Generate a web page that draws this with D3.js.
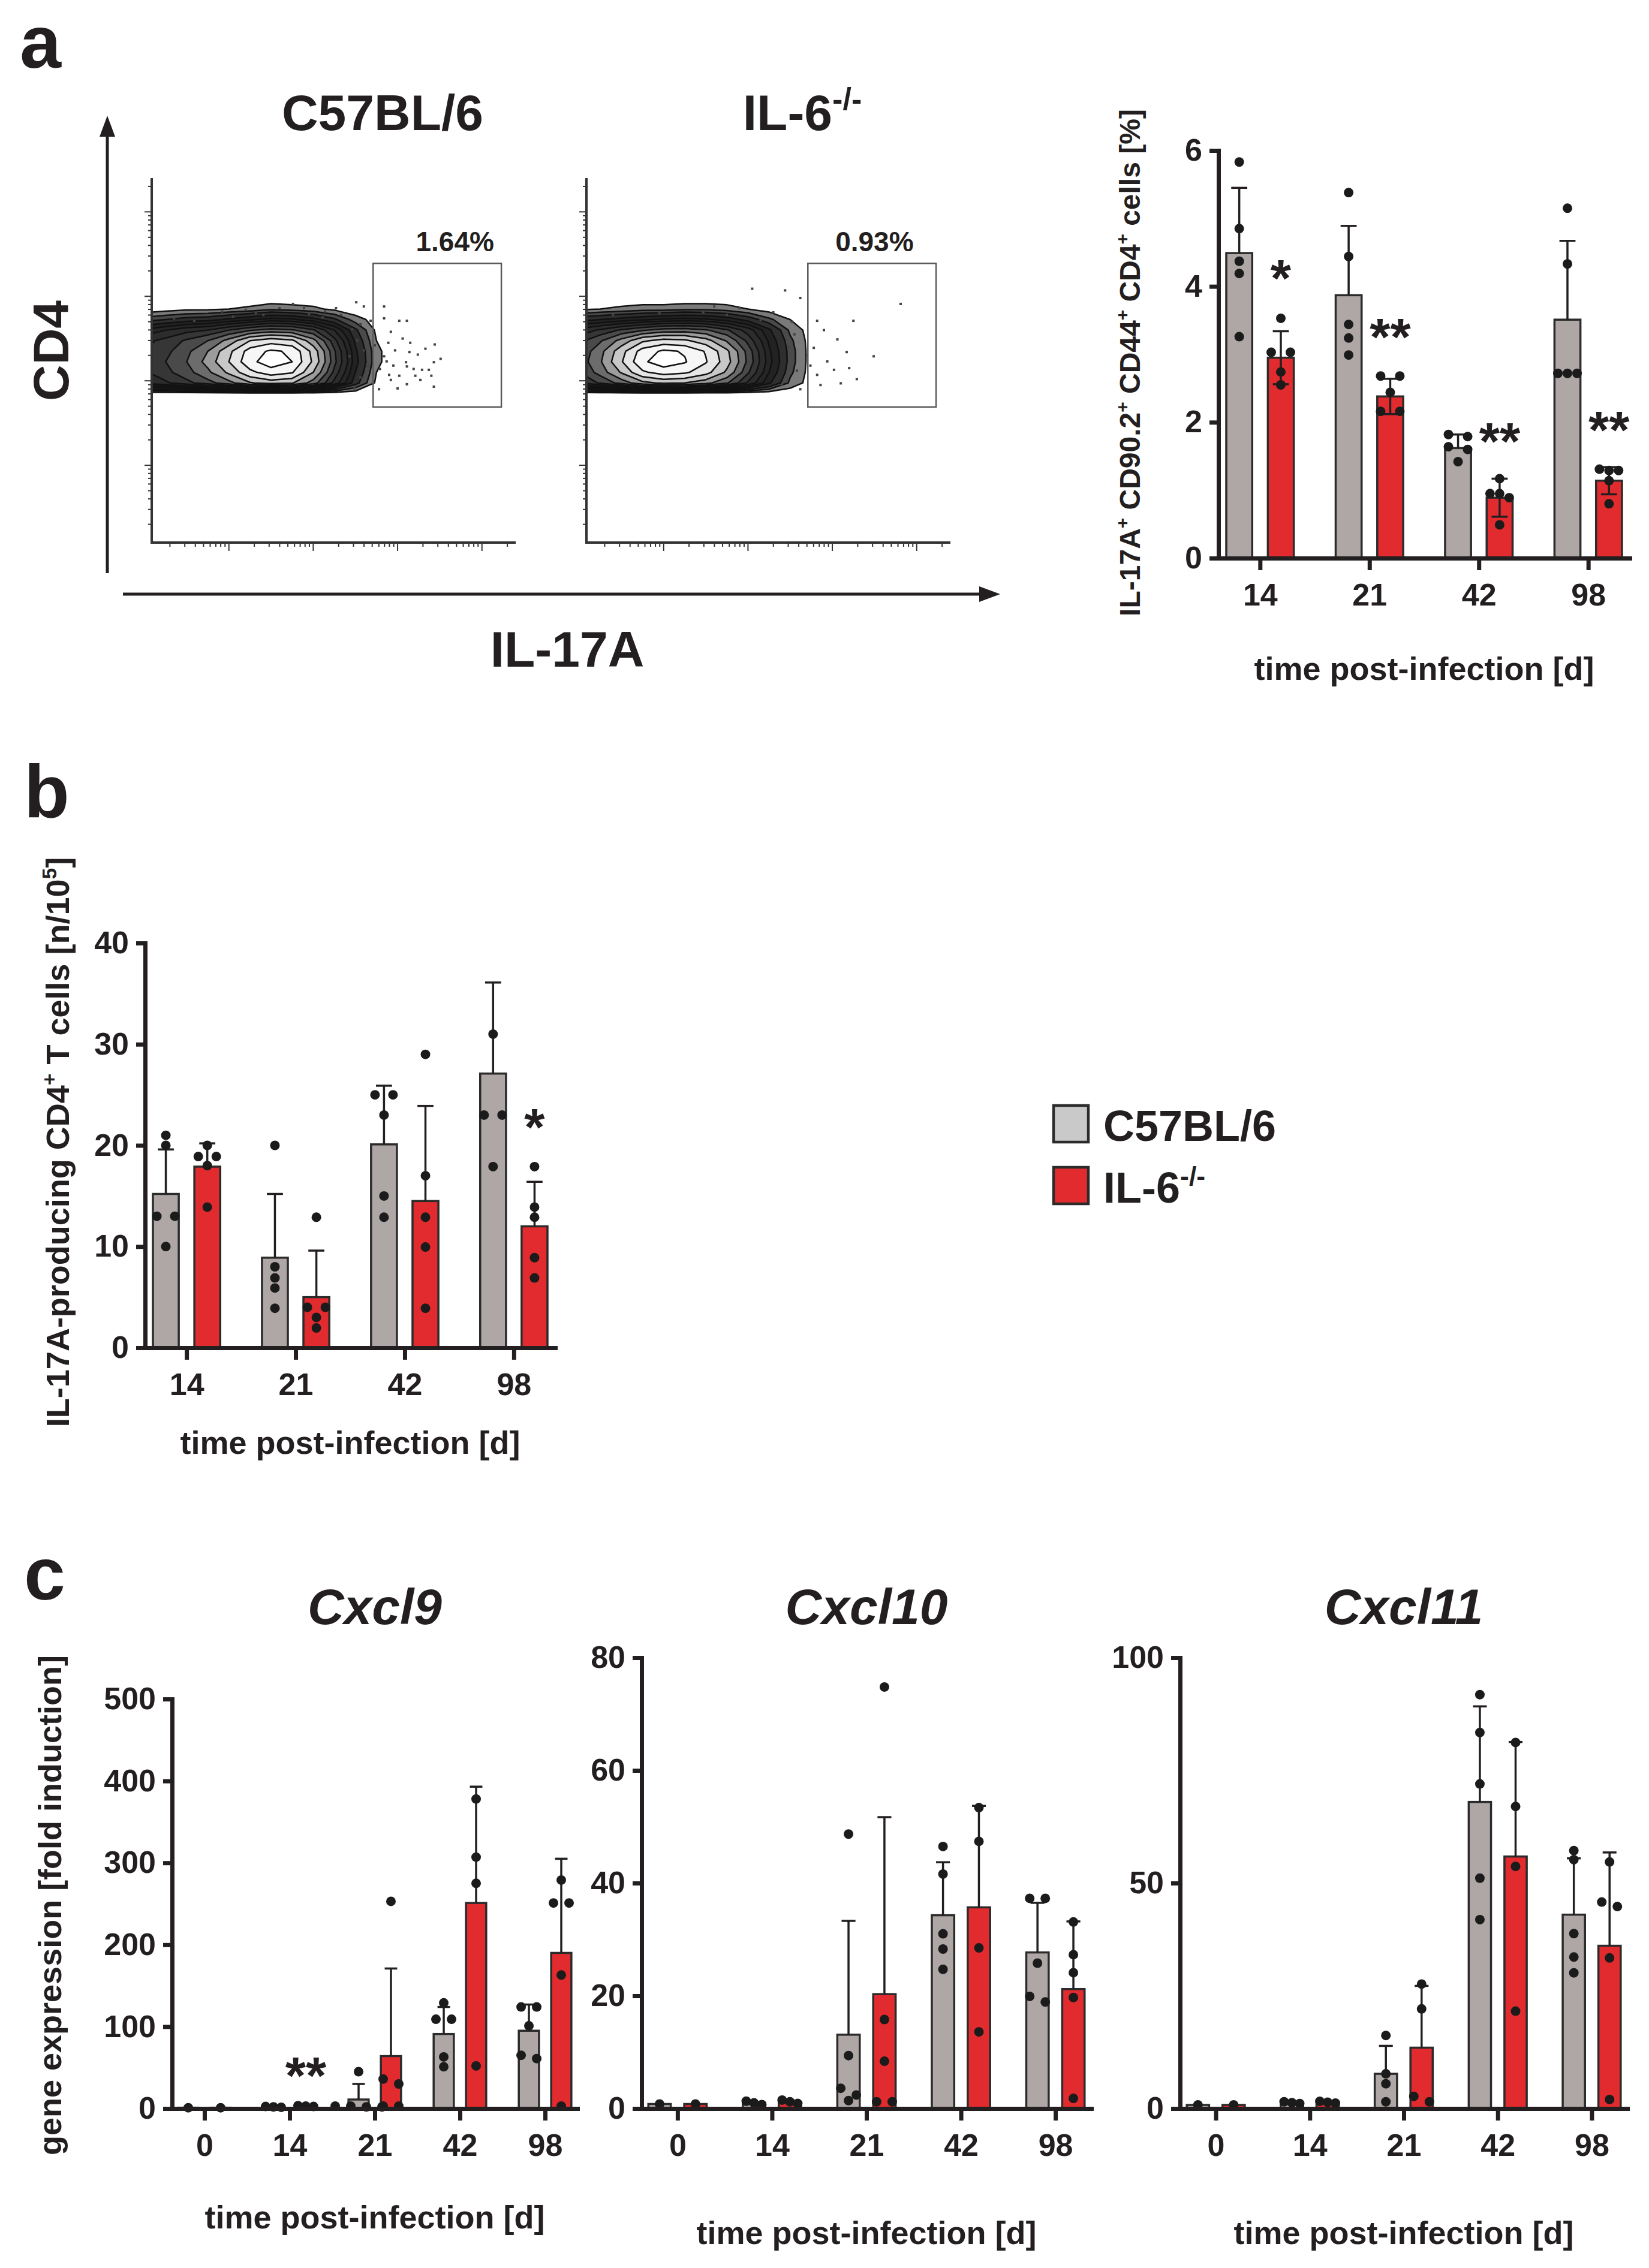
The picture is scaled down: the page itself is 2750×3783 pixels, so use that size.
<!DOCTYPE html>
<html>
<head>
<meta charset="utf-8">
<script src="https://cdnjs.cloudflare.com/ajax/libs/d3/7.8.5/d3.min.js"></script>
<style>
body { margin: 0; background: #fff; }
text { font-family: "Liberation Sans", Arial, Helvetica, sans-serif; font-weight: bold; fill: #231f20; }
</style>
</head>
<body>
<div id="chart-area"></div>
<script>
var svgWidth = 2750, svgHeight = 3783;
var ink = '#231f20', colGray = '#aea7a6', colRed = '#e22b2f', legGray = '#c9c9c9';

var groups = ['C57BL/6', 'IL-6-/-'];
var daysAB = ['14', '21', '42', '98'];
var daysC = ['0', '14', '21', '42', '98'];

// panel a, right: IL-17A+ CD90.2+ CD44+ CD4+ cells [%]
var aTicks = [0, 2, 4, 6];
var aMeanWT = [4.49, 3.87, 1.62, 3.51];
var aSdWT = [0.96, 1.02, 0.20, 1.16];
var aDotsWT = [[5.83, 4.85, 4.37, 4.19, 3.26], [5.38, 4.44, 3.44, 3.24, 2.99], [1.82, 1.79, 1.64, 1.60, 1.42], [5.15, 4.33, 2.72, 2.72, 2.72]];
var aMeanKO = [2.95, 2.38, 0.89, 1.14];
var aSdKO = [0.39, 0.26, 0.28, 0.20];
var aDotsKO = [[3.53, 3.03, 3.03, 2.74, 2.55], [2.68, 2.68, 2.44, 2.16, 2.16], [1.17, 0.95, 0.95, 0.89, 0.49], [1.29, 1.31, 1.29, 1.14, 0.80]];
var aStars = ['*', '**', '**', '**'];
var aStarY = [4.3, 3.43, 1.90, 2.07];

// panel b: IL-17A-producing CD4+ T cells [n/10^5]
var bTicks = [0, 10, 20, 30, 40];
var bMeanWT = [15.2, 8.9, 20.1, 27.1];
var bSdWT = [4.4, 6.3, 5.8, 9.0];
var bDotsWT = [[21, 20, 13, 13, 10], [20, 8, 6.9, 5.9, 3.9], [25, 25, 23, 15, 12.9], [31, 23, 23, 17.9]];
var bMeanKO = [17.9, 5.0, 14.5, 12.0];
var bSdKO = [2.3, 4.6, 9.4, 4.4];
var bDotsKO = [[20, 18.9, 18.9, 18, 13.9], [12.9, 4, 4, 3, 1.95], [29, 17, 12.9, 9.95, 3.9], [17.9, 13.9, 12.9, 8.9, 6.9]];
var bStars = ['', '', '', '*'];
var bStarY = [0, 0, 0, 23];

// panel c: gene expression [fold induction]
var c9Ticks = [0, 100, 200, 300, 400, 500];
var c9MeanWT = [1, 2, 11, 91, 95];
var c9SdWT = [0, 0.5, 19, 33, 32];
var c9DotsWT = [[1], [1.5, 2, 2.5], [45, 3, 3, 2, 2], [129, 109, 109, 63, 51], [124, 124, 101, 61, 65]];
var c9MeanKO = [1, 3, 64, 251, 190];
var c9SdKO = [0, 0.5, 107, 142, 115];
var c9DotsKO = [[1], [2.5, 3, 3.5], [253, 36, 30, 3, 3], [378, 307, 275, 52], [279, 251, 251, 163, 3]];
var c9Stars = ['', '**', '', '', ''];
var c9StarY = [0, 55, 0, 0, 0];

var c10Ticks = [0, 20, 40, 60, 80];
var c10MeanWT = [0.8, 1.0, 13.1, 34.3, 27.7];
var c10SdWT = [0, 0.2, 20.2, 9.4, 8.8];
var c10DotsWT = [[0.8], [0.7, 1.0, 1.3], [48.7, 9.4, 3.6, 2.4, 1.4], [46.5, 41.6, 31, 28.3, 24.7], [37.3, 37.3, 25.8, 19.9, 18.9]];
var c10MeanKO = [0.8, 1.2, 20.3, 35.7, 21.2];
var c10SdKO = [0, 0.2, 31.4, 18.0, 12.0];
var c10DotsKO = [[0.8], [0.9, 1.2, 1.5], [74.8, 15.8, 8.4, 1.2, 1.2], [53.4, 47.4, 28.5, 13.6], [33.1, 27.3, 24.1, 19.7, 1.8]];

var c11Ticks = [0, 50, 100];
var c11MeanWT = [0.8, 1.3, 7.7, 68.0, 43.0];
var c11SdWT = [0, 0.2, 6.2, 21.2, 12.5];
var c11DotsWT = [[0.8], [1.1, 1.3, 1.5], [16.2, 7.7, 5.5, 1.5], [91.8, 83.4, 72, 51.1, 41.9], [57.2, 55.2, 38.8, 33.6, 30.1]];
var c11MeanKO = [0.8, 1.4, 13.5, 55.9, 36.1];
var c11SdKO = [0, 0.2, 13.7, 25.4, 20.7];
var c11DotsKO = [[0.8], [1.2, 1.4, 1.6], [27.6, 22.1, 2.7, 1.5], [81.2, 67, 53.7, 21.6], [54.7, 45.8, 44.8, 33.4, 2]];

// panel a, left: flow plots (log10 units)
var flowRange = [1.085, 5.4];
var flowGridX = [1.0, 1.25, 1.5, 1.75, 2.0, 2.25, 2.5, 2.75, 3.0, 3.25, 3.5, 3.75, 4.0];
var flowGridY = [4.1, 3.975, 3.85, 3.725, 3.6, 3.475, 3.35, 3.225, 3.1, 2.975, 2.85];
var flowLevels = [0.3, 0.7, 1.1, 1.6, 2.1, 2.6, 3.2, 3.8, 4.5, 5.3, 6.2, 7.2, 8.3, 9.4];
var flowGridWT = [
  [0, 0, 0, 0, 0, 0, 0, 0, 0, 0, 0, 0, 0],
  [0, 0, 0, 0, 0, 0, 0, 0, 0, 0, 0, 0, 0],
  [0, 0.1, 0.2, 0.2, 0.3, 0.4, 0.6, 0.5, 0.4, 0.2, 0, 0, 0],
  [0.9, 1.1, 1.3, 1.4, 1.7, 2.0, 2.3, 2.2, 1.8, 1.2, 0.5, 0.1, 0],
  [2.2, 2.6, 3.0, 3.2, 3.8, 4.4, 4.8, 4.6, 3.9, 2.6, 1.2, 0.2, 0],
  [3.0, 3.4, 3.9, 4.5, 5.6, 7.2, 7.8, 7.4, 5.6, 3.4, 1.5, 0.3, 0],
  [3.2, 3.6, 4.3, 5.3, 6.9, 8.8, 9.6, 9.2, 6.8, 3.9, 1.7, 0.4, 0],
  [3.3, 3.8, 4.5, 5.6, 7.2, 9.1, 10, 9.4, 7.0, 4.0, 1.8, 0.4, 0],
  [3.1, 3.6, 4.2, 5.1, 6.4, 8.0, 8.9, 8.4, 6.2, 3.6, 1.6, 0.3, 0],
  [2.8, 3.1, 3.6, 4.2, 5.0, 6.1, 6.6, 6.3, 4.9, 3.0, 1.3, 0.2, 0],
  [0, 0, 0, 0, 0, 0, 0, 0, 0, 0, 0, 0, 0]
];
var flowGridKO = [
  [0, 0, 0, 0, 0, 0, 0, 0, 0, 0, 0, 0, 0],
  [0, 0, 0, 0, 0, 0, 0, 0, 0, 0, 0, 0, 0],
  [0.2, 0.3, 0.4, 0.5, 0.5, 0.6, 0.6, 0.5, 0.3, 0.1, 0, 0, 0],
  [1.4, 1.6, 1.8, 2.0, 2.2, 2.3, 2.2, 1.9, 1.4, 0.8, 0.3, 0, 0],
  [2.8, 3.3, 3.9, 4.4, 4.8, 4.9, 4.6, 3.9, 2.9, 1.7, 0.6, 0.1, 0],
  [3.6, 4.4, 5.6, 7.0, 7.6, 7.4, 6.6, 5.2, 3.6, 2.0, 0.8, 0.1, 0],
  [3.9, 5.0, 6.8, 8.8, 9.6, 9.3, 8.2, 6.4, 4.2, 2.2, 0.9, 0.1, 0],
  [4.0, 5.2, 7.1, 9.2, 10, 9.5, 8.4, 6.6, 4.3, 2.3, 0.9, 0.1, 0],
  [3.8, 4.8, 6.3, 8.1, 8.8, 8.5, 7.6, 6.0, 3.9, 2.1, 0.8, 0.1, 0],
  [3.2, 3.9, 4.8, 5.9, 6.4, 6.2, 5.6, 4.6, 3.1, 1.7, 0.6, 0.1, 0],
  [0, 0, 0, 0, 0, 0, 0, 0, 0, 0, 0, 0, 0]
];
var flowFills = ['#7a7a7a', '#4a4a4a', '#2e2e2e', '#222', '#262626', '#2c2c2c', '#363636', '#4a4a4a', '#6c6c6c', '#9c9c9c', '#c8c8c8', '#e6e6e6', '#f6f6f6', '#fff'];
var flowDotsWT = [[3.84, 3.88], [3.84, 3.74], [4.02, 3.71], [4.11, 3.71], [3.92, 3.58], [4.06, 3.50], [4.15, 3.45], [4.44, 3.43],
  [4.33, 3.38], [3.89, 3.45], [3.97, 3.36], [4.14, 3.34], [4.24, 3.31], [4.51, 3.26], [4.43, 3.22], [3.87, 3.23], [3.95, 3.18],
  [4.10, 3.22], [4.19, 3.14], [4.29, 3.13], [4.37, 3.13], [3.79, 3.14], [3.90, 3.07], [4.02, 3.06], [4.21, 3.06], [4.40, 3.06],
  [4.27, 3.01], [4.11, 2.96], [4.00, 2.91], [4.43, 2.93], [3.78, 2.90], [3.71, 2.98], [3.84, 3.29], [3.73, 3.42], [4.11, 3.17],
  [3.92, 3.01], [3.51, 3.93], [3.60, 3.88], [3.27, 3.86], [2.89, 3.86], [2.76, 3.91], [2.60, 3.86], [2.41, 3.78], [2.32, 3.80],
  [1.92, 3.82], [1.73, 3.78], [1.59, 3.71], [3.14, 3.82], [3.11, 3.75], [3.40, 3.71], [3.56, 3.67], [3.68, 3.71],
  [3.46, 3.61], [3.52, 3.48], [3.60, 3.36], [3.65, 3.17], [3.56, 3.04], [3.49, 2.91], [3.43, 3.29],
  [1.35, 3.74], [2.05, 3.76], [2.95, 3.79], [3.33, 3.78], [2.20, 3.84]];
var flowDotsKO = [[3.82, 3.71], [3.90, 3.60], [4.25, 3.71], [4.06, 3.49], [3.78, 3.39], [4.17, 3.34], [4.49, 3.29], [3.94, 3.23],
  [4.29, 3.02], [4.10, 2.97], [3.82, 3.07], [4.02, 3.13], [3.74, 3.18], [3.86, 2.95], [4.20, 3.15], [3.05, 4.09], [3.44, 4.07],
  [3.62, 3.98], [4.81, 3.91], [2.90, 3.86], [2.47, 3.81], [2.75, 3.78], [3.30, 3.81], [3.55, 3.55], [3.70, 3.30],
  [3.48, 3.40], [3.58, 3.12], [3.40, 2.95], [3.52, 3.70], [1.40, 3.78], [1.95, 3.80], [2.60, 3.88], [3.15, 3.72], [3.62, 2.90]];
var flowGate = [3.71, 5.23, 2.69, 4.39];
var flowPct = ['1.64%', '0.93%'];
var flowPctX = [4.68, 4.50];

var svg = d3.select('#chart-area')
  .append('svg')
  .attr('width', svgWidth)
  .attr('height', svgHeight);

// text made of parts, second flag = superscript
function addText(parent, parts, fs) {
  var t = parent.append('text').attr('font-size', fs);
  var up = 0;
  parts.forEach(function (p) {
    var s = t.append('tspan').text(p[0]);
    if (p[1]) {
      s.attr('font-size', fs * 0.62).attr('dy', -fs * 0.4);
      up = fs * 0.4;
    } else if (up) {
      s.attr('dy', up);
      up = 0;
    }
  });
  return t;
}

function vTitle(cx, cy, parts, fs) {
  var g = svg.append('g').attr('transform', 'translate(' + cx + ',' + cy + ') rotate(-90)');
  addText(g, parts, fs).attr('text-anchor', 'middle').attr('y', fs * 0.36);
}

function panelLetter(x, y, s) {
  svg.append('text').attr('x', x).attr('y', y).attr('font-size', 124).text(s);
}

// swarm: dots at similar heights are spread sideways
function swarm(vals, y, r, u) {
  var pts = vals.map(function (v) { return { v: v, py: y(v) }; })
    .sort(function (a, b) { return a.py - b.py; });
  var rows = [], cur = null;
  pts.forEach(function (p) {
    if (cur && p.py - cur[0].py < r * 1.6) cur.push(p);
    else { cur = [p]; rows.push(cur); }
  });
  rows.forEach(function (row) {
    var n = row.length;
    row.forEach(function (p, i) {
      p.dx = (i - (n - 1) / 2) * (n % 2 ? u : 2 * u);
    });
  });
  return pts;
}

function drawBars(o) {
  var g = svg.append('g');
  var x = d3.scalePoint().domain(o.cats).range([o.left, o.right]).padding(0.38);
  var step = x.step();
  var x1 = d3.scaleBand().domain(groups).range([-0.3086 * step, 0.3086 * step]).paddingInner(0.376);
  var y = d3.scaleLinear().domain([0, o.yMax]).range([o.bottom, o.top]);
  var bw = x1.bandwidth(), capW = bw * 0.62, r = 8;
  var series = [
    { mean: o.meanWT, sd: o.sdWT, dots: o.dotsWT, fill: colGray, both: false },
    { mean: o.meanKO, sd: o.sdKO, dots: o.dotsKO, fill: colRed, both: !!o.koBoth }
  ];

  series.forEach(function (s, k) {
    var sg = g.append('g');
    var cx = function (i) { return x(o.cats[i]) + x1(groups[k]) + bw / 2; };

    sg.selectAll('rect').data(s.mean).enter().append('rect')
      .attr('x', function (d, i) { return cx(i) - bw / 2; })
      .attr('y', function (d) { return y(d); })
      .attr('width', bw)
      .attr('height', function (d) { return y(0) - y(d); })
      .attr('fill', s.fill)
      .attr('stroke', '#2b2b2b')
      .attr('stroke-width', 3.5);

    s.mean.forEach(function (m, i) {
      if (!s.sd[i]) return;
      var lo = s.both ? m - s.sd[i] : m, hi = m + s.sd[i];
      var eg = sg.append('g').attr('stroke', ink).attr('stroke-width', 3.5);
      eg.append('line').attr('x1', cx(i)).attr('x2', cx(i)).attr('y1', y(lo)).attr('y2', y(hi));
      eg.append('line').attr('x1', cx(i) - capW / 2).attr('x2', cx(i) + capW / 2).attr('y1', y(hi)).attr('y2', y(hi));
      if (s.both) eg.append('line').attr('x1', cx(i) - capW / 2).attr('x2', cx(i) + capW / 2).attr('y1', y(lo)).attr('y2', y(lo));
    });

    s.dots.forEach(function (vals, i) {
      sg.append('g').selectAll('circle').data(swarm(vals, y, r, o.spread)).enter().append('circle')
        .attr('cx', function (d) { return cx(i) + d.dx; })
        .attr('cy', function (d) { return d.py; })
        .attr('r', r)
        .attr('fill', '#1b1b1b');
    });
  });

  if (o.stars) {
    o.stars.forEach(function (s, i) {
      if (!s) return;
      g.append('text')
        .attr('x', x(o.cats[i]) + x1(groups[1]) + bw / 2)
        .attr('y', y(o.starY[i]) + 88 * 0.57)
        .attr('text-anchor', 'middle')
        .attr('font-size', 88)
        .text(s);
    });
  }

  var yAxis = d3.axisLeft(y).tickValues(o.yTicks).tickFormat(d3.format('d'))
    .tickSize(15).tickSizeOuter(0).tickPadding(12);
  var xAxis = d3.axisBottom(x).tickSize(20).tickSizeOuter(0).tickPadding(22);
  var ya = g.append('g').attr('transform', 'translate(' + o.left + ',0)').call(yAxis);
  var xa = g.append('g').attr('transform', 'translate(0,' + o.bottom + ')').call(xAxis);
  [ya, xa].forEach(function (a) {
    a.select('.domain').attr('stroke', ink).attr('stroke-width', 7).attr('stroke-linecap', 'square');
    a.selectAll('.tick line').attr('stroke', ink).attr('stroke-width', 7);
    a.selectAll('.tick text').attr('font-size', 52).attr('fill', ink)
      .style('font-family', '"Liberation Sans", Arial, sans-serif').style('font-weight', 'bold');
  });

  if (o.title) {
    g.append('text').attr('x', (o.left + o.right) / 2).attr('y', o.titleY)
      .attr('text-anchor', 'middle').attr('font-size', 84).attr('font-style', 'italic').text(o.title);
  }
  g.append('text').attr('x', (o.left + o.right) / 2).attr('y', o.xTitleY)
    .attr('text-anchor', 'middle').attr('font-size', 54).text('time post-infection [d]');
}

function drawFlow(o) {
  var g = svg.append('g');
  var top = 297, bottom = 905;
  var x = d3.scaleLog().domain([Math.pow(10, flowRange[0]), Math.pow(10, flowRange[1])]).range([o.left, o.right]);
  var y = d3.scaleLog().domain([Math.pow(10, flowRange[0]), Math.pow(10, flowRange[1])]).range([bottom, top]);
  var clipId = 'clip-' + o.id;
  svg.append('clipPath').attr('id', clipId).append('rect')
    .attr('x', o.left).attr('y', top).attr('width', o.right - o.left).attr('height', bottom - top);

  var n = flowGridX.length, m = flowGridY.length;
  var dxg = flowGridX[1] - flowGridX[0], dyg = flowGridY[0] - flowGridY[1];
  var proj = d3.geoTransform({
    point: function (px, py) {
      this.stream.point(x(Math.pow(10, flowGridX[0] + (px - 0.5) * dxg)),
                        y(Math.pow(10, flowGridY[0] - (py - 0.5) * dyg)));
    }
  });
  var cs = d3.contours().size([n, m]).thresholds(flowLevels)(d3.merge(o.grid));
  var cg = g.append('g').attr('clip-path', 'url(#' + clipId + ')');
  cg.selectAll('path.band').data(cs).enter().append('path')
    .attr('class', 'band')
    .attr('d', d3.geoPath(proj))
    .attr('fill', function (d, i) { return flowFills[i]; })
    .attr('stroke', '#111')
    .attr('stroke-width', 2.5)
    .attr('stroke-linejoin', 'round');

  g.append('g').selectAll('rect').data(o.dots).enter().append('rect')
    .attr('x', function (d) { return x(Math.pow(10, d[0])) - 2; })
    .attr('y', function (d) { return y(Math.pow(10, d[1])) - 2; })
    .attr('width', 4).attr('height', 4)
    .attr('fill', '#444');

  g.append('rect')
    .attr('x', x(Math.pow(10, flowGate[0])))
    .attr('y', y(Math.pow(10, flowGate[3])))
    .attr('width', x(Math.pow(10, flowGate[1])) - x(Math.pow(10, flowGate[0])))
    .attr('height', y(Math.pow(10, flowGate[2])) - y(Math.pow(10, flowGate[3])))
    .attr('fill', 'none').attr('stroke', '#5a5a5a').attr('stroke-width', 2.5);

  g.append('text').attr('x', x(Math.pow(10, o.pctX))).attr('y', 419)
    .attr('text-anchor', 'middle').attr('font-size', 46).attr('fill', '#333').text(o.pct);

  // log axes with decade and minor ticks
  var ag = g.append('g').attr('stroke', '#333');
  y.ticks().forEach(function (t) {
    var major = Math.abs(Math.log10(t) - Math.round(Math.log10(t))) < 1e-6;
    ag.append('line').attr('x1', o.left - (major ? 12 : 6)).attr('x2', o.left)
      .attr('y1', y(t)).attr('y2', y(t)).attr('stroke-width', 2);
  });
  x.ticks().forEach(function (t) {
    var major = Math.abs(Math.log10(t) - Math.round(Math.log10(t))) < 1e-6;
    ag.append('line').attr('y1', bottom).attr('y2', bottom + (major ? 14 : 7))
      .attr('x1', x(t)).attr('x2', x(t)).attr('stroke-width', 2);
  });
  ag.append('path').attr('d', 'M' + o.left + ',' + top + 'V' + bottom + 'H' + o.right)
    .attr('fill', 'none').attr('stroke-width', 4);

  addText(g, o.titleParts, 84).attr('x', o.titleX).attr('y', 217).attr('text-anchor', 'middle');
}

// ---- panel a ----
panelLetter(33, 113, 'a');

drawFlow({ id: 'wt', left: 253, right: 860, grid: flowGridWT, dots: flowDotsWT, pct: flowPct[0], pctX: flowPctX[0],
  titleParts: [['C57BL/6']], titleX: 638 });
drawFlow({ id: 'ko', left: 978, right: 1585, grid: flowGridKO, dots: flowDotsKO, pct: flowPct[1], pctX: flowPctX[1],
  titleParts: [['IL-6'], ['-/-', true]], titleX: 1338 });

// arrows for the flow axes
var arrows = svg.append('g').attr('fill', ink).attr('stroke', ink);
arrows.append('line').attr('x1', 179).attr('x2', 179).attr('y1', 956).attr('y2', 220).attr('stroke-width', 5);
arrows.append('path').attr('d', 'M179,193 L166,228 L192,228 Z').attr('stroke', 'none');
arrows.append('line').attr('x1', 205).attr('x2', 1640).attr('y1', 991).attr('y2', 991).attr('stroke-width', 5);
arrows.append('path').attr('d', 'M1668,991 L1633,978 L1633,1004 Z').attr('stroke', 'none');
vTitle(84, 585, [['CD4']], 84);
svg.append('text').attr('x', 946).attr('y', 1112).attr('text-anchor', 'middle').attr('font-size', 84).text('IL-17A');

drawBars({ cats: daysAB, left: 2032, right: 2718, bottom: 931, top: 251, yMax: 6, yTicks: aTicks,
  meanWT: aMeanWT, sdWT: aSdWT, dotsWT: aDotsWT, meanKO: aMeanKO, sdKO: aSdKO, dotsKO: aDotsKO,
  koBoth: true, spread: 16, stars: aStars, starY: aStarY, xTitleY: 1134 });
vTitle(1884, 605, [['IL-17A'], ['+', true], [' CD90.2'], ['+', true], [' CD44'], ['+', true], [' CD4'], ['+', true], [' cells [%]']], 48);

// ---- panel b ----
panelLetter(40, 1363, 'b');
drawBars({ cats: daysAB, left: 242, right: 926, bottom: 2248, top: 1573, yMax: 40, yTicks: bTicks,
  meanWT: bMeanWT, sdWT: bSdWT, dotsWT: bDotsWT, meanKO: bMeanKO, sdKO: bSdKO, dotsKO: bDotsKO,
  spread: 15, stars: bStars, starY: bStarY, xTitleY: 2425 });
vTitle(96, 1905, [['IL-17A-producing CD4'], ['+', true], [' T cells [n/10'], ['5', true], [']']], 54);

// legend
var leg = svg.append('g');
[legGray, colRed].forEach(function (c, i) {
  leg.append('rect').attr('x', 1757).attr('y', 1844 + i * 103).attr('width', 58).attr('height', 61)
    .attr('fill', c).attr('stroke', '#2b2b2b').attr('stroke-width', 4.5);
});
addText(leg, [['C57BL/6']], 72).attr('x', 1840).attr('y', 1903);
addText(leg, [['IL-6'], ['-/-', true]], 72).attr('x', 1840).attr('y', 2006);

// ---- panel c ----
panelLetter(40, 2668, 'c');
drawBars({ cats: daysC, left: 287, right: 963, bottom: 3517, top: 2834, yMax: 500, yTicks: c9Ticks,
  meanWT: c9MeanWT, sdWT: c9SdWT, dotsWT: c9DotsWT, meanKO: c9MeanKO, sdKO: c9SdKO, dotsKO: c9DotsKO,
  spread: 13, stars: c9Stars, starY: c9StarY, title: 'Cxcl9', titleY: 2709, xTitleY: 3717 });
drawBars({ cats: daysC, left: 1070, right: 1820, bottom: 3517, top: 2765, yMax: 80, yTicks: c10Ticks,
  meanWT: c10MeanWT, sdWT: c10SdWT, dotsWT: c10DotsWT, meanKO: c10MeanKO, sdKO: c10SdKO, dotsKO: c10DotsKO,
  spread: 13, title: 'Cxcl10', titleY: 2709, xTitleY: 3743 });
drawBars({ cats: daysC, left: 1968, right: 2714, bottom: 3517, top: 2765, yMax: 100, yTicks: c11Ticks,
  meanWT: c11MeanWT, sdWT: c11SdWT, dotsWT: c11DotsWT, meanKO: c11MeanKO, sdKO: c11SdKO, dotsKO: c11DotsKO,
  spread: 13, title: 'Cxcl11', titleY: 2709, xTitleY: 3743 });
vTitle(83, 3178, [['gene expression [fold induction]']], 54);
</script>
</body>
</html>
